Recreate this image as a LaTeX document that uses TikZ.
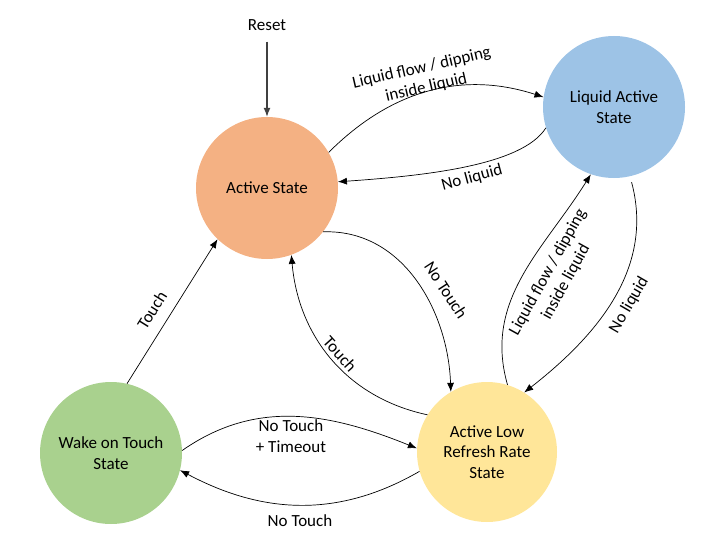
\documentclass[tikz,border=0pt]{standalone}
\usepackage{fontspec}
\setmainfont{Carlito}
\usetikzlibrary{arrows.meta}
\definecolor{Naranja}{RGB}{244,177,131}
\definecolor{Azul}{RGB}{157,195,230}
\definecolor{Verde}{RGB}{169,209,142}
\definecolor{Amarillo}{RGB}{255,230,153}
\definecolor{GrisOscuro}{RGB}{64,64,64}
\tikzset{
  estado/.style={circle, minimum size=142pt, inner sep=0pt, align=center, font=\fontsize{17}{20.5}\selectfont},
  etiqueta/.style={align=center, inner sep=1pt, font=\fontsize{17}{20.5}\selectfont},
  flecha/.style={-{Latex[length=9pt,width=7pt]}, line width=0.7pt}
}

\begin{document}
\begin{tikzpicture}[x=1pt,y=1pt]
            \useasboundingbox (0,0) rectangle (701,550);
            %Estados
            \node[estado, fill=Naranja] (A) at (267,362) {Active State};
            \node[estado, fill=Azul] (L) at (614,443) {Liquid Active\\State};
            \node[estado, fill=Verde] (W) at (111,97) {Wake on Touch\\State};
            \node[estado, fill=Amarillo, minimum size=140pt] (R) at (487,98) {Active Low\\Refresh Rate\\State};
            \node[etiqueta] (reset) at (267,525) {Reset};
            %Transiciones
            \draw[flecha, GrisOscuro, line width=1.2pt, shorten <=10pt] (reset) -- (A);
            \draw[flecha] (A.30) to[out=45,in=162] (L.172);
            \draw[flecha] (L.197) to[out=-122,in=4,out distance=45pt,in distance=85pt] (A.5);
            \draw[flecha] (A.-38) to[out=2,in=92] (R.121);
            \draw[flecha] (R.148) to[out=168,in=-85] (A.-70);
            \draw[flecha] (R.73) to[out=106,in=-122] (L.-109);
            \draw[flecha, shorten <=6pt] (L.-77) to[out=-75,in=38] (R.58);
            \draw[flecha] (W.77) -- (A.-134);
            \draw[flecha] (W.2) to[out=35,in=158] (R.177);
            \draw[flecha] (R.196) to[out=-150,in=-28] (W.-14);
            %Etiquetas
            \node[etiqueta, rotate=13] (e1) at (424,472) {Liquid flow / dipping\\inside liquid};
            \node[etiqueta, rotate=15] (e2) at (472,372) {No liquid};
            \node[etiqueta, rotate=-57] (e3) at (446,260) {No Touch};
            \node[etiqueta, rotate=-48] (e4) at (340,196) {Touch};
            \node[etiqueta, rotate=61] (e5) at (557,273) {Liquid flow / dipping\\inside liquid};
            \node[etiqueta, rotate=60] (e6) at (629,245) {No liquid};
            \node[etiqueta, rotate=58] (e7) at (152,240) {Touch};
            \node[etiqueta] (e8) at (291,114) {No Touch\\+ Timeout};
            \node[etiqueta] (e9) at (300,29) {No Touch};
        \end{tikzpicture}
\end{document}
